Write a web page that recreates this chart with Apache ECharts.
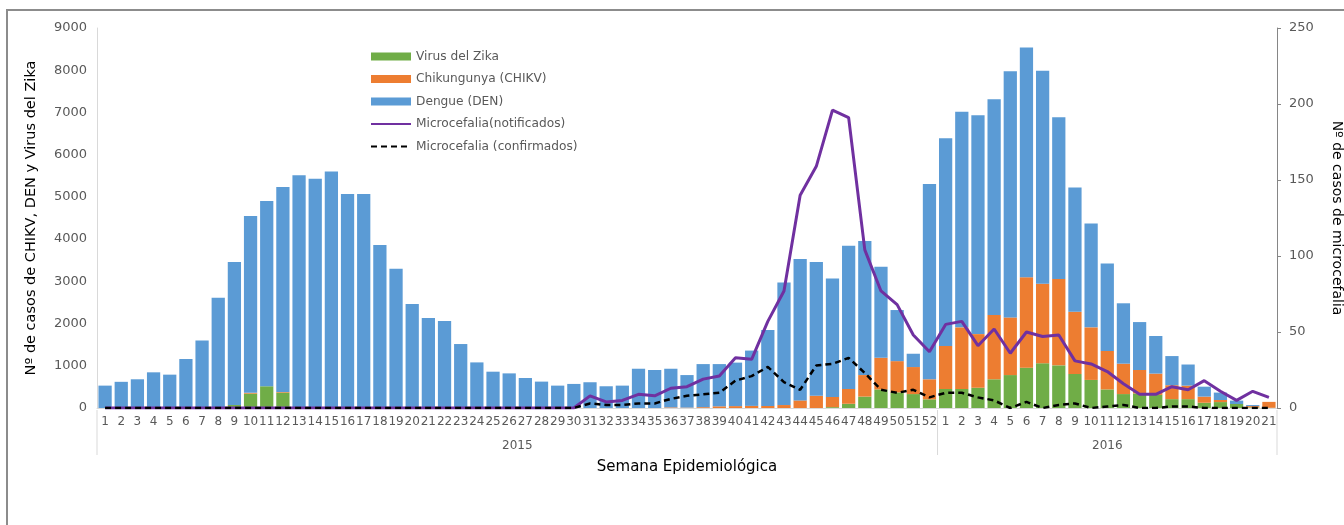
<!DOCTYPE html>
<html>
<head>
<meta charset="utf-8">
<script src="https://cdn.jsdelivr.net/npm/echarts@6/dist/echarts.min.js"></script>
<style>
  html, body { margin: 0; padding: 0; background: #fff; }
  #chart { width: 1344px; height: 525px; }
</style>
</head>
<body>
<div id="chart"></div>
<script>
// semanas epidemiológicas: 2015 (1-52) y 2016 (1-21)
const weeks = [
  '1','2','3','4','5','6','7','8','9','10','11','12','13','14','15','16','17','18','19','20',
  '21','22','23','24','25','26','27','28','29','30','31','32','33','34','35','36','37','38','39','40',
  '41','42','43','44','45','46','47','48','49','50','51','52',
  '1','2','3','4','5','6','7','8','9','10','11','12','13','14','15','16','17','18','19','20','21'
];
const years = ['2015', '2016'];
const yearWeeks = [52, 21];

// casos por semana (barras apiladas)
const zika = [
  0,0,0,0,0,0,0,0,70,340,515,365,0,0,0,0,0,0,0,0,
  0,0,0,0,0,0,0,0,0,0,0,0,0,0,0,0,0,0,0,0,
  0,0,0,0,0,20,100,270,440,370,330,205,
  450,450,480,680,780,955,1060,1010,805,665,440,330,345,310,210,210,125,140,95,15,5
];
const chikv = [
  0,0,0,0,0,0,0,0,0,20,0,15,0,0,0,0,0,0,0,0,
  0,0,0,0,0,0,0,0,0,0,0,0,0,0,0,15,10,20,40,45,
  50,50,70,180,290,240,350,510,750,740,640,475,
  1020,1460,1270,1525,1365,2140,1885,2045,1475,1245,910,720,555,505,330,320,145,50,0,30,140
];
const dengue = [
  530,620,680,845,790,1160,1600,2610,3390,4190,4390,4855,5510,5430,5600,5070,5070,3860,3300,2465,
  2130,2060,1515,1080,860,820,710,625,530,570,610,515,530,930,900,915,770,1020,1000,1030,
  1310,1800,2905,3350,3170,2810,3395,3175,2155,1210,315,4625,
  4920,5105,5185,5110,5830,5445,5045,3830,2945,2460,2070,1430,1135,890,690,500,235,175,80,25,0
];
// microcefalia (eje derecho)
const microNotif = [
  0,0,0,0,0,0,0,0,0,0,0,0,0,0,0,0,0,0,0,0,
  0,0,0,0,0,0,0,0,0,0,8,4,5,9,8,13,14,19,21,33,
  32,57,77,140,159,196,191,104,77,68,48,37,
  55,57,41,52,36,50,47,48,31,29,24,16,9,9,14,12,18,11,5,11,7
];
const microConf = [
  0,0,0,0,0,0,0,0,0,0,0,0,0,0,0,0,0,0,0,0,
  0,0,0,0,0,0,0,0,0,0,3,2,2,3,3,6,8,9,10,18,
  21,27,17,12,28,29,33,23,12,10,12,7,
  10,10,7,5,0,4,0,2,3,0,1,2,0,0,1,1,0,0,0,0,0
];

const FONT = 'DejaVu Sans';
const chart = echarts.init(document.getElementById('chart'));

const option = {
  animation: false,
  textStyle: { fontFamily: FONT },
  grid: { left: 97, right: 67, top: 28, bottom: 117, outerBoundsMode: 'none', containLabel: false },
  legend: {
    orient: 'vertical',
    left: 365,
    top: 44,
    itemWidth: 40,
    itemHeight: 8,
    itemGap: 7.5,
    textStyle: { fontFamily: FONT, fontSize: 12.2, color: '#595959', lineHeight: 15 },
    data: [
      { name: 'Virus del Zika', icon: 'rect' },
      { name: 'Chikungunya (CHIKV)', icon: 'rect' },
      { name: 'Dengue (DEN)', icon: 'rect' },
      { name: 'Microcefalia(notificados)', itemStyle: { opacity: 0 } },
      { name: 'Microcefalia (confirmados)', itemStyle: { opacity: 0 } }
    ]
  },
  xAxis: {
    type: 'category',
    data: weeks,
    name: 'Semana Epidemiológica',
    nameLocation: 'middle',
    nameGap: 52,
    nameTextStyle: { fontFamily: FONT, fontSize: 15, color: '#000' },
    axisLine: { lineStyle: { color: '#d9d9d9' } },
    axisTick: { show: false },
    axisLabel: { interval: 0, fontSize: 12, color: '#595959', margin: 8, hideOverlap: false }
  },
  yAxis: [
    {
      type: 'value',
      min: 0, max: 9000, interval: 1000,
      name: 'Nº de casos de CHIKV, DEN y Virus del Zika',
      nameLocation: 'middle',
      nameGap: 58,
      nameTextStyle: { fontFamily: FONT, fontSize: 14.5, color: '#000' },
      axisLine: { show: true, lineStyle: { color: '#d9d9d9' } },
      axisTick: { show: false },
      splitLine: { show: false },
      axisLabel: { fontSize: 13, color: '#595959', margin: 10, formatter: v => String(v) }
    },
    {
      type: 'value',
      min: 0, max: 250, interval: 50,
      position: 'right',
      name: 'Nº de casos de microcefalia',
      nameLocation: 'middle',
      nameRotate: -90,
      nameGap: 53,
      nameTextStyle: { fontFamily: FONT, fontSize: 14, color: '#000' },
      axisLine: { show: true, lineStyle: { color: '#868686' } },
      axisTick: { show: true, length: 4, lineStyle: { color: '#868686' } },
      splitLine: { show: false },
      axisLabel: { fontSize: 13, color: '#595959', margin: 12, formatter: v => String(v) }
    }
  ],
  series: [
    {
      name: 'Virus del Zika', type: 'bar', stack: 'casos',
      data: zika, barCategoryGap: '18%',
      itemStyle: { color: '#70ad47' }
    },
    {
      name: 'Chikungunya (CHIKV)', type: 'bar', stack: 'casos',
      data: chikv,
      itemStyle: { color: '#ed7d31' }
    },
    {
      name: 'Dengue (DEN)', type: 'bar', stack: 'casos',
      data: dengue,
      itemStyle: { color: '#5b9bd5' }
    },
    {
      name: 'Microcefalia(notificados)', type: 'line', yAxisIndex: 1,
      data: microNotif, symbol: 'none',
      lineStyle: { color: '#7030a0', width: 3 },
      itemStyle: { color: '#7030a0' }
    },
    {
      name: 'Microcefalia (confirmados)', type: 'line', yAxisIndex: 1,
      data: microConf, symbol: 'none',
      lineStyle: { color: '#000', width: 2.5, type: [6, 4] },
      itemStyle: { color: '#000' }
    }
  ]
};

chart.setOption(option);

// segundo nivel del eje x: años con separadores
const c0 = chart.convertToPixel({ xAxisIndex: 0 }, 0);
const step = chart.convertToPixel({ xAxisIndex: 0 }, 1) - c0;
const axisY = chart.convertToPixel({ yAxisIndex: 0 }, 0);
let edge = c0 - step / 2;
const graphics = [{
  type: 'rect', silent: true,
  shape: { x: 7, y: 10, width: 1400, height: 600 },
  style: { fill: 'none', stroke: '#8c8c8c', lineWidth: 2 }
}];
graphics.push({
  type: 'line', silent: true,
  shape: { x1: edge, y1: axisY + 2, x2: edge, y2: axisY + 47 },
  style: { stroke: '#d9d9d9', lineWidth: 1 }
});
years.forEach((y, i) => {
  const next = edge + yearWeeks[i] * step;
  graphics.push({
    type: 'text', silent: true,
    style: {
      text: y, x: (edge + next) / 2, y: axisY + 38,
      fill: '#595959', font: '12px "DejaVu Sans"', align: 'center', verticalAlign: 'middle'
    }
  });
  graphics.push({
    type: 'line', silent: true,
    shape: { x1: next, y1: axisY + 2, x2: next, y2: axisY + 47 },
    style: { stroke: '#d9d9d9', lineWidth: 1 }
  });
  edge = next;
});
chart.setOption({ graphic: graphics });
</script>
</body>
</html>
